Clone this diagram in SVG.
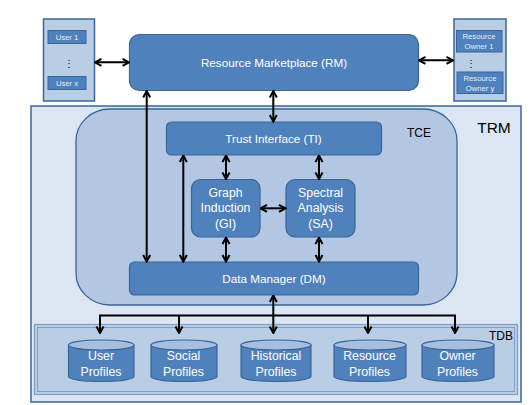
<svg xmlns="http://www.w3.org/2000/svg" width="532" height="405" viewBox="0 0 532 405">
<defs>
<style>
.node{fill:#4f81bd;stroke:#3a6599;stroke-width:1.2}
.panel{fill:#b9cde5;stroke:#3a6599;stroke-width:1.5}
.wt{fill:#ffffff;font-family:"Liberation Sans",Arial,sans-serif;font-size:11.7px;text-anchor:middle}
.wl{fill:#ffffff;font-family:"Liberation Sans",Arial,sans-serif;font-size:12.3px;text-anchor:middle}
.sm{fill:#e8eef7;font-family:"Liberation Sans",Arial,sans-serif;font-size:7.7px;text-anchor:middle}
.bk{fill:#000000;font-family:"Liberation Sans",Arial,sans-serif;text-anchor:middle}
.conn{fill:none;stroke:#000000;stroke-width:2}
.cyl{fill:#4f81bd;stroke:#3a6599;stroke-width:1.2}
.cyltop{fill:#a7bfde;stroke:#3a6599;stroke-width:1.2}
</style>
<marker id="ah" viewBox="0 0 10 10" refX="9" refY="5" markerWidth="10" markerHeight="10" markerUnits="userSpaceOnUse" orient="auto-start-reverse">
<path d="M2.5,1.5 L9,5 L2.5,8.5" fill="none" stroke="#000" stroke-width="2"/>
</marker>
</defs>
<rect width="532" height="405" fill="#ffffff"/>

<g id="TRM">
<rect x="31" y="106" width="490" height="296" fill="#dce6f2" stroke="#3a6599" stroke-width="1.5"/>
<text class="bk" x="494" y="133" font-size="15.5">TRM</text>
</g>

<g id="TCE">
<rect x="76" y="109" width="381" height="196" rx="34" ry="32" fill="#b3c7e2" stroke="#3a6599" stroke-width="1.3"/>
<text class="bk" x="419" y="137" font-size="12">TCE</text>
</g>

<g id="TDB">
<rect x="34.5" y="324.5" width="483" height="70" fill="#b9cde5" stroke="#7f9fc7" stroke-width="1.2"/>
<rect x="37.5" y="327.5" width="477" height="64" fill="none" stroke="#7f9fc7" stroke-width="1"/>
<text class="bk" x="501" y="340" font-size="12">TDB</text>
</g>

<g id="Users">
<rect class="panel" x="43.5" y="19" width="51" height="82"/>
<rect x="48" y="30.5" width="38" height="13" fill="#4f81bd" stroke="#3a6599" stroke-width="1"/>
<text class="sm" x="67" y="40" font-size="8">User 1</text>
<text class="bk" x="69" y="67" font-size="10">⋮</text>
<rect x="48" y="76.5" width="38" height="13" fill="#4f81bd" stroke="#3a6599" stroke-width="1"/>
<text class="sm" x="67" y="86" font-size="8">User x</text>
</g>

<g id="Owners">
<rect class="panel" x="454" y="19" width="52" height="82"/>
<rect x="456.5" y="30.5" width="45.5" height="21.5" fill="#4f81bd" stroke="#3a6599" stroke-width="1"/>
<text class="sm" x="479" y="39">Resource</text>
<text class="sm" x="479" y="49">Owner  1</text>
<text class="bk" x="470.5" y="67" font-size="10">⋮</text>
<rect x="457" y="72" width="46" height="21.5" fill="#4f81bd" stroke="#3a6599" stroke-width="1"/>
<text class="sm" x="480" y="80.5">Resource</text>
<text class="sm" x="480" y="90.5">Owner  y</text>
</g>

<g id="RM">
<rect class="node" x="129.5" y="34.5" width="289" height="56" rx="10"/>
<text class="wt" x="274" y="66.5">Resource Marketplace (RM)</text>
</g>

<g id="TI">
<rect class="node" x="166.5" y="122" width="215" height="33" rx="5"/>
<text class="wt" x="273.5" y="142.5">Trust Interface (TI)</text>
</g>

<g id="GI">
<rect class="node" x="191.5" y="179.5" width="68.5" height="57.5" rx="9"/>
<text class="wl" x="225.5" y="196.8">Graph</text>
<text class="wl" x="225.5" y="212.4">Induction</text>
<text class="wl" x="225.5" y="228.4">(GI)</text>
</g>

<g id="SA">
<rect class="node" x="286" y="179.5" width="69" height="57.5" rx="9"/>
<text class="wl" x="320.5" y="196.8">Spectral</text>
<text class="wl" x="320.5" y="212.4">Analysis</text>
<text class="wl" x="320.5" y="228.4">(SA)</text>
</g>

<g id="DM">
<rect class="node" x="129.5" y="262" width="289" height="33" rx="5"/>
<text class="wt" x="274" y="282.5">Data Manager (DM)</text>
</g>

<g id="UserProfiles">
<path class="cyl" d="M68.5,345 L68.5,376.5 A32.75,5 0 0 0 134,376.5 L134,345 Z"/>
<ellipse class="cyltop" cx="101.25" cy="345" rx="32.75" ry="5"/>
<text class="wl" x="101" y="359.5">User</text>
<text class="wl" x="101" y="375.5">Profiles</text>
</g>

<g id="SocialProfiles">
<path class="cyl" d="M151,345 L151,376.5 A33,5 0 0 0 217,376.5 L217,345 Z"/>
<ellipse class="cyltop" cx="184" cy="345" rx="33" ry="5"/>
<text class="wl" x="183.5" y="359.5">Social</text>
<text class="wl" x="183.5" y="375.5">Profiles</text>
</g>

<g id="HistoricalProfiles">
<path class="cyl" d="M241,345 L241,376.5 A35,5 0 0 0 311,376.5 L311,345 Z"/>
<ellipse class="cyltop" cx="276" cy="345" rx="35" ry="5"/>
<text class="wl" x="276" y="359.5">Historical</text>
<text class="wl" x="276" y="375.5">Profiles</text>
</g>

<g id="ResourceProfiles">
<path class="cyl" d="M334,345 L334,376.5 A36,5 0 0 0 406,376.5 L406,345 Z"/>
<ellipse class="cyltop" cx="370" cy="345" rx="36" ry="5"/>
<text class="wl" x="369.5" y="359.5">Resource</text>
<text class="wl" x="369.5" y="375.5">Profiles</text>
</g>

<g id="OwnerProfiles">
<path class="cyl" d="M422,345 L422,376.5 A36,5 0 0 0 494,376.5 L494,345 Z"/>
<ellipse class="cyltop" cx="458" cy="345" rx="36" ry="5"/>
<text class="wl" x="457.5" y="359.5">Owner</text>
<text class="wl" x="457.5" y="375.5">Profiles</text>
</g>

<g id="connectors">
<line class="conn" x1="95" y1="62.3" x2="129" y2="62.3" marker-start="url(#ah)" marker-end="url(#ah)"/>
<line class="conn" x1="419" y1="60.3" x2="453" y2="60.3" marker-start="url(#ah)" marker-end="url(#ah)"/>
<line class="conn" x1="146.7" y1="91" x2="146.7" y2="261.5" marker-start="url(#ah)" marker-end="url(#ah)"/>
<line class="conn" x1="273.3" y1="91" x2="273.3" y2="121.5" marker-start="url(#ah)" marker-end="url(#ah)"/>
<line class="conn" x1="183.3" y1="155.5" x2="183.3" y2="261.5" marker-start="url(#ah)" marker-end="url(#ah)"/>
<line class="conn" x1="226" y1="155.5" x2="226" y2="179" marker-start="url(#ah)" marker-end="url(#ah)"/>
<line class="conn" x1="319" y1="155.5" x2="319" y2="179" marker-start="url(#ah)" marker-end="url(#ah)"/>
<line class="conn" x1="260.5" y1="208.3" x2="285.5" y2="208.3" marker-start="url(#ah)" marker-end="url(#ah)"/>
<line class="conn" x1="226" y1="237.5" x2="226" y2="261.5" marker-start="url(#ah)" marker-end="url(#ah)"/>
<line class="conn" x1="319" y1="237.5" x2="319" y2="261.5" marker-start="url(#ah)" marker-end="url(#ah)"/>
<line class="conn" x1="273.3" y1="333" x2="273.3" y2="295.5" marker-start="url(#ah)" marker-end="url(#ah)"/>
<polyline class="conn" points="100,333 100,315.5 455,315.5 455,333" marker-start="url(#ah)" marker-end="url(#ah)"/>
<line class="conn" x1="179" y1="315.5" x2="179" y2="333" marker-end="url(#ah)"/>
<line class="conn" x1="368" y1="315.5" x2="368" y2="333" marker-end="url(#ah)"/>
</g>
</svg>
